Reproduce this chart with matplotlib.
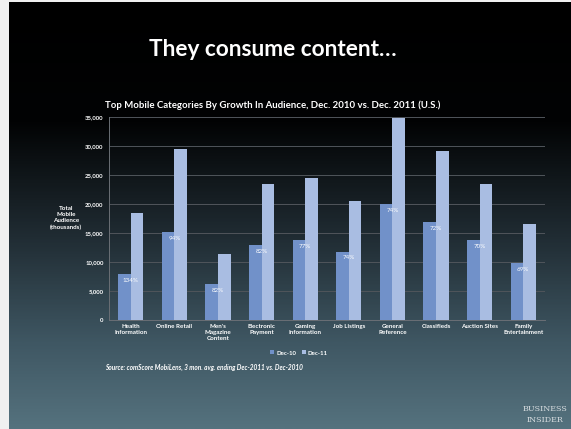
import numpy as np
import matplotlib
matplotlib.use("Agg")
import matplotlib.pyplot as plt
from matplotlib.colors import LinearSegmentedColormap

categories = ["Health\nInformation", "Online Retail", "Men's\nMagazine\nContent",
              "Electronic\nPayment", "Gaming\nInformation", "Job Listings",
              "General\nReference", "Classifieds", "Auction Sites", "Family\nEntertainment"]
dec10 = [7900, 15200, 6200, 12900, 13800, 11800, 20000, 16900, 13800, 9800]
dec11 = [18500, 29500, 11300, 23500, 24400, 20500, 34900, 29100, 23500, 16600]
growth = ["134%", "94%", "82%", "82%", "77%", "74%", "74%", "72%", "70%", "69%"]
yticks = [0, 5000, 10000, 15000, 20000, 25000, 30000, 35000]
ytick_labels = ["0", "5,000", "10,000", "15,000", "20,000", "25,000", "30,000", "35,000"]

W, H = 571, 429
fig = plt.figure(figsize=(W / 100, H / 100), dpi=100)
fig.patch.set_facecolor("#f0f0f0")

# slide background gradient
bg = fig.add_axes([9 / W, 0, 1 - 9 / W, 1 - 2 / H])
bg.set_axis_off()
t = np.linspace(0, 1, 400)[:, None]
cmap = LinearSegmentedColormap.from_list(
    "slide", [(0.0, "#000000"), (0.28, "#020304"), (0.55, "#202c33"), (0.8, "#3f5763"), (1.0, "#55727e")])
bg.imshow(t, aspect="auto", cmap=cmap, extent=[0, 1, 1, 0])

fig.text(273 / W, 1 - 49 / H, "They consume content…", color="white", fontsize=16.3,
         fontfamily="Lato", fontweight="bold", ha="center", va="center")
fig.text(273 / W, 1 - 105 / H,
         "Top Mobile Categories By Growth In Audience, Dec. 2010 vs. Dec. 2011 (U.S.)",
         color="white", fontsize=6.9, fontfamily="Lato", fontweight="bold", ha="center", va="center")

ax = fig.add_axes([109 / W, 1 - 320 / H, (545 - 109) / W, (320 - 117) / H])
ax.set_facecolor("none")
x = np.arange(len(categories))
bw = 0.29
ax.bar(x - bw / 2, dec10, bw, color="#7191c9", label="Dec-10", zorder=3)
ax.bar(x + bw / 2, dec11, bw, color="#a9bde2", label="Dec-11", zorder=3)
for i, g in enumerate(growth):
    ax.text(x[i], dec10[i] - 1100, g, color="white", fontsize=4.5, ha="center", va="center",
            fontfamily="Lato", zorder=4)
ax.set_xlim(-0.5, len(categories) - 0.5)
ax.set_ylim(0, 35000)
ax.set_yticks(yticks)
ax.set_yticklabels(ytick_labels, fontsize=4.3, color="white", fontfamily="Lato", fontweight="bold")
ax.set_xticks(x)
ax.set_xticklabels(categories, fontsize=4.5, color="white", fontfamily="Lato", fontweight="bold",
                   linespacing=1.25, va="top")
ax.tick_params(axis="both", length=0, pad=4)
ax.tick_params(axis="x", pad=3)
ax.grid(axis="y", color="#50555b", linewidth=0.7, zorder=0)
for s in ["top", "right"]:
    ax.spines[s].set_visible(False)
ax.spines["left"].set_color("#6a6f75")
ax.spines["bottom"].set_color("#6a6f75")
ax.spines["left"].set_linewidth(0.7)
ax.spines["bottom"].set_linewidth(0.7)

fig.text(66 / W, 1 - 218 / H, "Total\nMobile\nAudience\n(thousands)", color="white", fontsize=4.5,
         fontfamily="Lato", fontweight="bold", ha="center", va="center", linespacing=1.35)

leg = ax.legend(loc="center", bbox_to_anchor=((299 - 109) / (545 - 109), (320 - 353) / (320 - 117)),
                ncol=2, frameon=False, fontsize=4.3, handlelength=0.6, handleheight=0.6,
                handletextpad=0.4, columnspacing=1.0)
for txt in leg.get_texts():
    txt.set_color("white")
    txt.set_fontfamily("Lato")
    txt.set_fontweight("bold")

fig.text(105 / W, 1 - 367 / H, "Source: comScore MobiLens, 3 mon. avg. ending Dec-2011 vs. Dec-2010",
         color="white", fontsize=4.7, fontfamily="Lato", fontstyle="italic", fontweight="bold",
         ha="left", va="center")

fig.text(545 / W, 1 - 409 / H, "BUSINESS", color="#d8dde0", fontsize=5.8, fontfamily="DejaVu Serif",
         ha="center", va="center")
fig.text(545 / W, 1 - 420 / H, "INSIDER", color="#d8dde0", fontsize=5.8, fontfamily="DejaVu Serif",
         ha="center", va="center")

fig.savefig("out.png", dpi=100, facecolor=fig.get_facecolor())
